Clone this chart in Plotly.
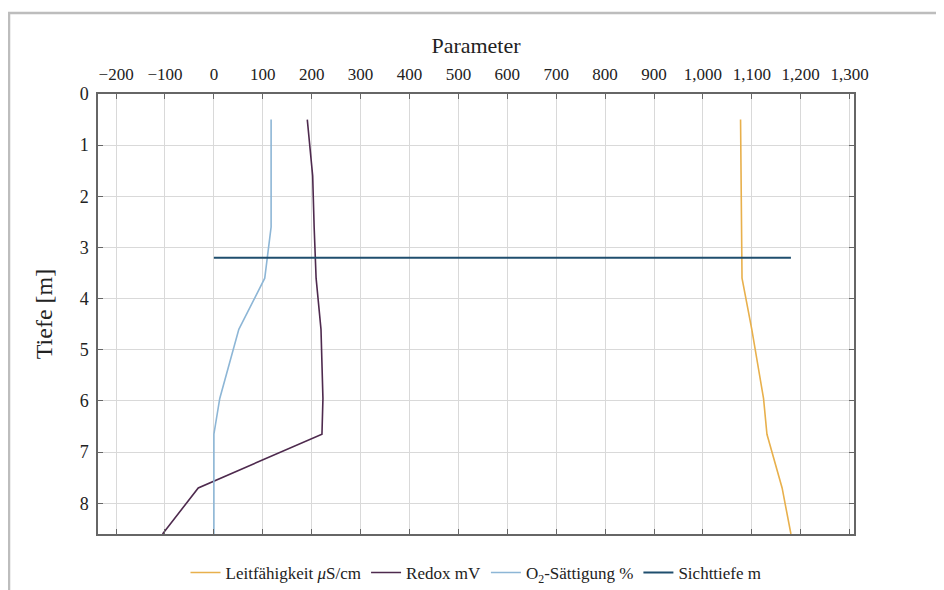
import plotly.graph_objects as go

# Data
depth = [0.5, 1.6, 2.6, 3.6, 4.6, 5.95, 6.65, 7.7, 8.6]
leitfaehigkeit = [1077, 1078, 1079, 1080, 1100, 1124, 1131, 1162, 1180]
redox = [191, 202, 205, 209, 219, 223, 221, -32, -105]
o2_saettigung = [117, 117, 117, 104, 51, 12, 0, 0, 0]
sicht_x = [0, 1180]
sicht_depth = [3.2, 3.2]

x_ticks = list(range(-200, 1301, 100))
y_ticks = list(range(0, 9))

# page body has an 8px margin, so figure coords = page coords - 8
W, H = 936, 582
ML, MR, MT, MB = 90, 90, 86, 56
PW, PH = W - ML - MR, H - MT - MB

def px(x):
    return (x - ML) / PW

def py(y):
    return 1 - (y - MT) / PH

fig = go.Figure()
fig.add_trace(go.Scatter(x=leitfaehigkeit, y=depth, mode="lines",
                         name="Leitfähigkeit <i>μ</i>S/cm",
                         line=dict(color="#E8B04C", width=1.6)))
fig.add_trace(go.Scatter(x=redox, y=depth, mode="lines", name="Redox mV",
                         line=dict(color="#4E2A4E", width=1.6)))
fig.add_trace(go.Scatter(x=o2_saettigung, y=depth, mode="lines",
                         name="O<sub>2</sub>-Sättigung %",
                         line=dict(color="#8DB6D6", width=1.6)))
fig.add_trace(go.Scatter(x=sicht_x, y=sicht_depth, mode="lines", name="Sichttiefe m",
                         line=dict(color="#1F4E6E", width=2)))

serif = "Liberation Serif"
fig.update_layout(
    width=W, height=H,
    margin=dict(l=ML, r=MR, t=MT, b=MB, autoexpand=False),
    paper_bgcolor="white", plot_bgcolor="white",
    font=dict(family=serif, size=15, color="#222"),
    showlegend=True,
    legend=dict(orientation="h", x=0.5, xanchor="center", y=py(565), yanchor="middle",
                font=dict(family=serif, size=17, color="#222"), itemwidth=30,
                bgcolor="rgba(0,0,0,0)"),
    xaxis=dict(side="top", range=[-237, 1309], tickvals=x_ticks, tickformat=",",
               showgrid=True, gridcolor="#d9d9d9", gridwidth=1, zeroline=False,
               showline=True, linecolor="#666", linewidth=1.5, mirror="ticks",
               ticks="inside", ticklen=5, tickcolor="#666",
               ticklabelstandoff=5, automargin=False,
               tickfont=dict(family=serif, size=17),
               title=dict(text="Parameter", font=dict(family=serif, size=22), standoff=6)),
    yaxis=dict(range=[8.6, 0], tickvals=y_ticks,
               showgrid=True, gridcolor="#d9d9d9", gridwidth=1, zeroline=False,
               showline=True, linecolor="#666", linewidth=1.5, mirror="ticks",
               ticks="inside", ticklen=5, tickcolor="#666",
               ticklabelstandoff=4, automargin=False,
               tickfont=dict(family=serif, size=18),
               title=dict(text="Tiefe [m]", font=dict(family=serif, size=24), standoff=20)),
    shapes=[dict(type="path", xref="paper", yref="paper",
                 path=f"M {px(1)} {py(600)} L {px(1)} {py(5)} L {px(950)} {py(5)}",
                 line=dict(color="#bdbdbd", width=2.5))],
)

fig.write_html("out.html")
